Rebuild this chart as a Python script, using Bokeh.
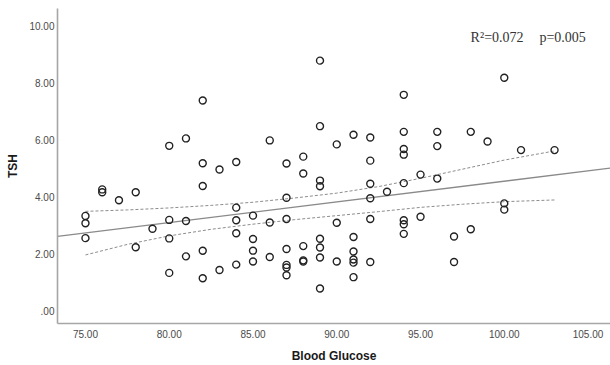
from bokeh.plotting import figure
from bokeh.models import Range1d, FixedTicker, Label
from bokeh.embed import file_html
from bokeh.resources import INLINE

# ---- data ----
glucose = [75, 75, 75, 76, 76, 77, 78, 78, 79,
           80, 80, 80, 80, 81, 81, 81,
           82, 82, 82, 82, 82, 83, 83,
           84, 84, 84, 84, 84, 85, 85, 85, 85,
           86, 86, 86, 87, 87, 87, 87, 87, 87, 87,
           88, 88, 88, 88, 88, 89, 89, 89, 89, 89, 89, 89, 89,
           90, 90, 90, 91, 91, 91, 91, 91, 91,
           92, 92, 92, 92, 92, 92, 93,
           94, 94, 94, 94, 94, 94, 94, 94, 95, 95,
           96, 96, 96, 97, 97, 98, 98, 99, 100, 100, 100, 101, 103]
tsh = [3.32, 3.06, 2.54, 4.25, 4.15, 3.87, 4.15, 2.22, 2.87,
       5.78, 3.18, 2.53, 1.32, 6.04, 3.14, 1.90,
       7.37, 5.17, 4.37, 2.10, 1.13, 4.95, 1.42,
       5.21, 3.61, 3.17, 2.71, 1.61, 3.33, 2.51, 2.10, 1.72,
       5.97, 3.09, 1.88, 5.16, 3.96, 3.21, 2.16, 1.60, 1.51, 1.24,
       5.40, 4.81, 2.26, 1.76, 1.72, 8.77, 6.47, 4.56, 4.36, 2.52, 2.21, 1.86, 0.77,
       5.83, 3.08, 1.72, 6.17, 2.58, 2.07, 1.79, 1.68, 1.17,
       6.07, 5.26, 4.45, 3.94, 3.21, 1.70, 4.17,
       7.57, 6.27, 5.67, 5.47, 4.47, 3.17, 3.03, 2.69, 4.77, 3.29,
       6.27, 5.77, 4.63, 2.60, 1.70, 6.27, 2.85, 5.93, 8.17, 3.76, 3.54, 5.63, 5.63]

# linear fit line
fit_intercept_at_75 = 2.72
fit_slope = 0.0727

# 95% confidence band
band_x = [75, 77.5, 80, 82.5, 85, 87.5, 90, 92.5, 95, 97.5, 100, 103]
band_upper = [3.48, 3.53, 3.60, 3.69, 3.80, 3.95, 4.12, 4.35, 4.64, 4.96, 5.28, 5.60]
band_lower = [1.95, 2.32, 2.62, 2.85, 3.03, 3.19, 3.33, 3.47, 3.62, 3.73, 3.82, 3.88]

x_ticks = [75, 80, 85, 90, 95, 100, 105]
x_tick_labels = ["75.00", "80.00", "85.00", "90.00", "95.00", "100.00", "105.00"]
y_ticks = [0, 2, 4, 6, 8, 10]
y_tick_labels = [".00", "2.00", "4.00", "6.00", "8.00", "10.00"]

x_title = "Blood Glucose"
y_title = "TSH"
r2_text = "R\u00b2=0.072"
p_text = "p=0.005"

# ---- figure ----
X0, X1 = 73.33, 106.34
Y0, Y1 = -0.456, 10.60

p = figure(width=610, height=365, output_backend="svg", toolbar_location=None,
           x_range=Range1d(X0, X1), y_range=Range1d(Y0, Y1),
           min_border_left=57, min_border_right=0, min_border_top=8, min_border_bottom=42)
p.outline_line_color = None
p.grid.visible = False
p.background_fill_color = "white"
p.border_fill_color = "white"

AX_COL = "#a6a6a6"
LBL_COL = "#4a4a4a"
FONT = "Liberation Sans"

for ax in (p.xaxis[0], p.yaxis[0]):
    ax.axis_line_color = AX_COL
    ax.axis_line_width = 1.6
    ax.major_tick_line_color = None
    ax.minor_tick_line_color = None
    ax.major_tick_out = 0
    ax.major_tick_in = 0
    ax.major_label_text_font = FONT
    ax.major_label_text_font_size = "10px"
    ax.major_label_text_color = LBL_COL
    ax.axis_label_text_font = FONT
    ax.axis_label_text_font_size = "12px"
    ax.axis_label_text_font_style = "bold"
    ax.axis_label_text_color = "#1a1a1a"

p.xaxis[0].ticker = FixedTicker(ticks=x_ticks)
p.xaxis[0].major_label_overrides = dict(zip(x_ticks, x_tick_labels))
p.xaxis[0].major_label_standoff = 6
p.xaxis[0].axis_label = x_title
p.xaxis[0].axis_label_standoff = 8

p.yaxis[0].ticker = FixedTicker(ticks=y_ticks)
p.yaxis[0].major_label_overrides = dict(zip(y_ticks, y_tick_labels))
p.yaxis[0].major_label_standoff = 3
p.yaxis[0].axis_label = y_title
p.yaxis[0].axis_label_standoff = 6

# confidence band
p.line(band_x, band_upper, line_color="#8c8c8c", line_width=1, line_dash="3 2")
p.line(band_x, band_lower, line_color="#8c8c8c", line_width=1, line_dash="3 2")

# fit line across the whole x range
fx = [X0, X1]
fy = [fit_intercept_at_75 + fit_slope * (v - 75) for v in fx]
p.line(fx, fy, line_color="#8a8a8a", line_width=1.3)

# points
p.scatter(glucose, tsh, marker="circle", size=7, fill_color=None,
          line_color="#222222", line_width=1.4)

# annotation
p.add_layout(Label(x=97.99, y=9.57, text=r2_text, text_font="Liberation Serif",
                   text_font_size="14px", text_color="#333333", text_baseline="middle"))
p.add_layout(Label(x=102.1, y=9.57, text=p_text, text_font="Liberation Serif",
                   text_font_size="14px", text_color="#333333", text_baseline="middle"))

open("out.html", "w").write(file_html(p, INLINE))
